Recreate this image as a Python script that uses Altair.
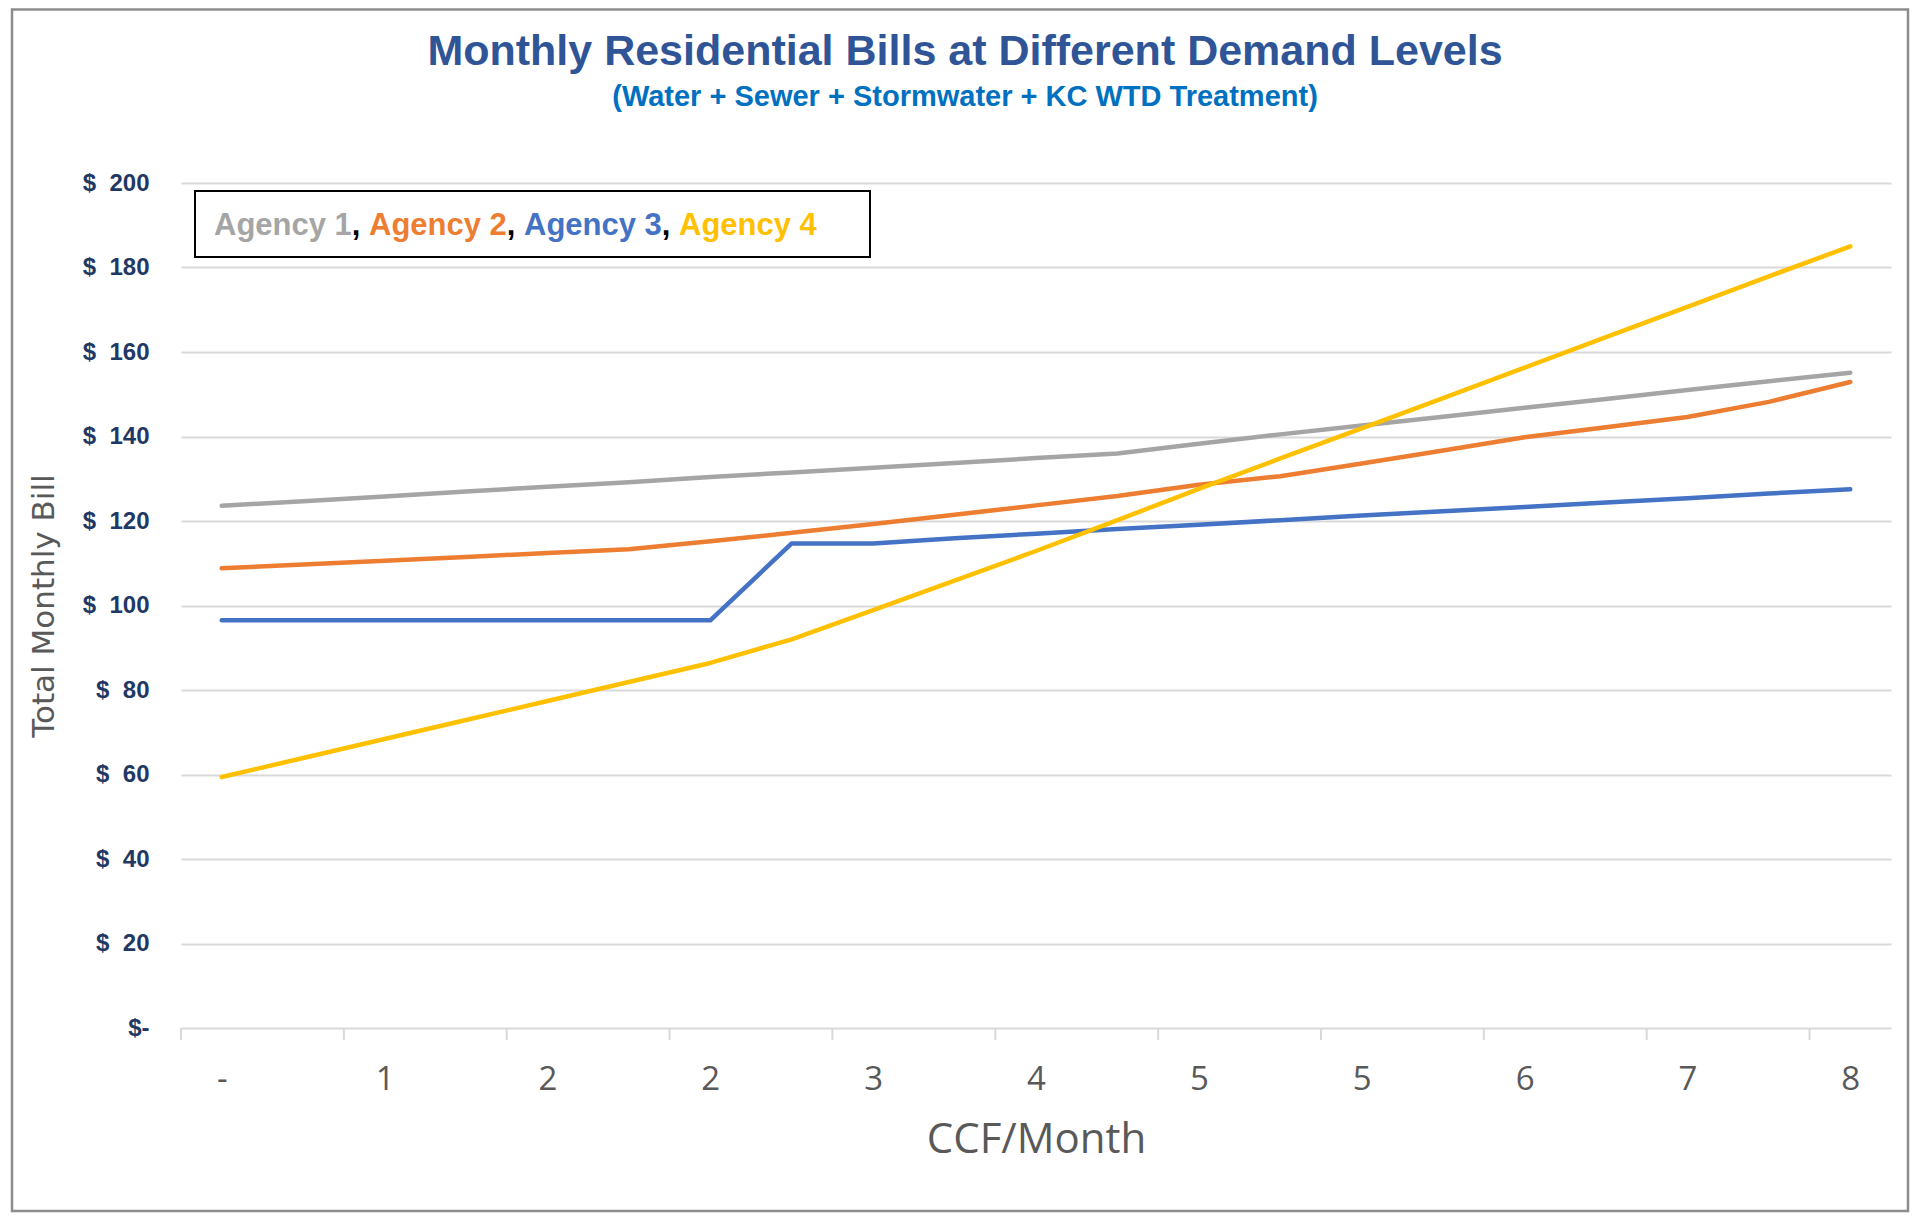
import json
import altair as alt
import pandas as pd

# ---------------- data ----------------
agencies = ["Agency 1", "Agency 2", "Agency 3", "Agency 4"]
colors = ["#A5A5A5", "#ED7D31", "#4472C4", "#FFC000"]

# 21 demand steps on the category axis; a label is shown on every other step
steps = list(range(21))
x_tick_labels = ["-", "1", "2", "2", "3", "4", "5", "5", "6", "7", "8"]
x_label_steps = [0, 2, 4, 6, 8, 10, 12, 14, 16, 18, 20]
x_tick_marks = [-0.5, 1.5, 3.5, 5.5, 7.5, 9.5, 11.5, 13.5, 15.5, 17.5, 19.5]
y_ticks = [0, 20, 40, 60, 80, 100, 120, 140, 160, 180, 200]

agency1 = [123.6, 124.7, 125.8, 127.0, 128.1, 129.2, 130.4, 131.5, 132.6, 133.7, 134.9,
           136.0, 138.3, 140.5, 142.6, 144.7, 146.8, 148.9, 151.0, 153.1, 155.1]
agency2 = [108.8, 109.7, 110.6, 111.5, 112.4, 113.3, 115.2, 117.2, 119.3, 121.5, 123.7,
           125.9, 128.6, 130.6, 133.6, 136.7, 139.8, 142.2, 144.6, 148.2, 152.9]
agency3 = [96.5, 96.5, 96.5, 96.5, 96.5, 96.5, 96.5, 114.7, 114.7, 115.9, 117.0,
           118.1, 119.1, 120.2, 121.3, 122.3, 123.3, 124.4, 125.4, 126.5, 127.5]
agency4 = [59.4, 63.9, 68.4, 72.9, 77.4, 81.9, 86.4, 92.0, 98.9, 105.9, 112.9,
           120.2, 127.6, 134.8, 141.9, 149.1, 156.3, 163.5, 170.7, 177.9, 185.0]

title_text = "Monthly Residential Bills at Different Demand Levels"
subtitle_text = "(Water + Sewer + Stormwater + KC WTD Treatment)"

# ---------------- tables ----------------
series = [agency1, agency2, agency3, agency4]
rows = []
for name, vals in zip(agencies, series):
    for s, v in zip(steps, vals):
        rows.append({"agency": name, "step": s, "bill": v})
df = pd.DataFrame(rows)

W, H = 1710, 845
color_scale = alt.Scale(domain=agencies, range=colors)
x_scale = alt.Scale(domain=[-0.5, 20.5], nice=False, zero=False)

label_lookup = json.dumps(x_tick_labels)

x_axis = alt.Axis(
    values=x_label_steps,
    labelExpr=f"{label_lookup}[round(datum.value / 2)]",
    grid=False, ticks=False, tickSize=0, domain=False, labelFlush=False,
    labelFont="Open Sans", labelFontSize=33, labelColor="#595959",
    labelPadding=61, labelBaseline="alphabetic",
    title="CCF/Month", titleFont="Open Sans", titleFontSize=42,
    titleFontWeight="normal", titleColor="#595959",
    titleX=W / 2, titleY=124, titleAlign="center", titleBaseline="alphabetic",
)
y_axis = alt.Axis(
    values=y_ticks,
    labelExpr="datum.value == 0 ? '$-' : '$\u00a0 ' + datum.value",
    grid=True, gridColor="#d9d9d9", gridWidth=2,
    ticks=False, tickSize=0, domain=False,
    labelFont="Liberation Sans", labelFontWeight="bold", labelFontSize=24,
    labelColor="#1F3864", labelPadding=32,
    title="Total Monthly Bill", titleFont="DejaVu Sans", titleFontSize=31,
    titleFontWeight="normal", titleColor="#595959",
    titleAngle=270, titleX=-137, titleY=H / 2,
    titleAlign="center", titleBaseline="middle",
)

lines = alt.Chart(df).mark_line(strokeWidth=4.5, strokeCap="round", strokeJoin="round").encode(
    x=alt.X("step:Q", scale=x_scale, axis=x_axis),
    y=alt.Y("bill:Q", scale=alt.Scale(domain=[0, 200], nice=False), axis=y_axis),
    color=alt.Color("agency:N", scale=color_scale, legend=None),
    detail="agency:N",
)

ticks = alt.Chart(pd.DataFrame({"tick": x_tick_marks})).mark_rule(
    color="#d9d9d9", strokeWidth=2
).encode(
    x=alt.X("tick:Q", scale=x_scale),
    y=alt.value(H),
    y2=alt.value(H + 12),
)

one = pd.DataFrame({"k": [0]})

border = alt.Chart(one).mark_rect(
    fillOpacity=0, stroke="#8c8c8c", strokeWidth=2.5
).encode(
    x=alt.value(-169), x2=alt.value(1727), y=alt.value(-173.5), y2=alt.value(H + 183)
)

legend_box = alt.Chart(one).mark_rect(
    fill="white", stroke="black", strokeWidth=2
).encode(
    x=alt.value(14), x2=alt.value(689), y=alt.value(8), y2=alt.value(74)
)

legend_df = pd.DataFrame({"agency": agencies, "i": list(range(len(agencies)))})
legend_text = alt.Chart(legend_df).transform_calculate(
    px="33 + datum.i * 155"
).mark_text(
    align="left", baseline="alphabetic", font="Liberation Sans",
    fontWeight="bold", fontSize=31
).encode(
    x=alt.X("px:Q", scale=None),
    y=alt.value(52),
    text="agency:N",
    color=alt.Color("agency:N", scale=color_scale, legend=None),
)

comma_df = pd.DataFrame({"i": [0, 1, 2], "c": [",", ",", ","]})
commas = alt.Chart(comma_df).transform_calculate(
    px="33 + 137.8 + datum.i * 155"
).mark_text(
    align="left", baseline="alphabetic", font="Liberation Sans",
    fontWeight="bold", fontSize=31, color="black"
).encode(
    x=alt.X("px:Q", scale=None),
    y=alt.value(52),
    text="c:N",
)

title = alt.Chart(one).mark_text(
    text=title_text, align="center", baseline="alphabetic",
    font="Liberation Sans", fontWeight="bold", fontSize=43, color="#2F5597"
).encode(x=alt.value(784), y=alt.value(-118))

subtitle = alt.Chart(one).mark_text(
    text=subtitle_text, align="center", baseline="alphabetic",
    font="Liberation Sans", fontWeight="bold", fontSize=29, color="#0070C0"
).encode(x=alt.value(784), y=alt.value(-77))

chart = alt.layer(
    border, ticks, lines, legend_box, legend_text, commas, title, subtitle
).properties(
    width=W, height=H,
    autosize=alt.AutoSizeParams(type="none"),
    padding={"left": 173, "top": 175, "right": 19, "bottom": 185},
    background="white",
).configure_view(strokeWidth=0)

chart.save("out.html", embed_options={"renderer": "svg", "actions": False})
